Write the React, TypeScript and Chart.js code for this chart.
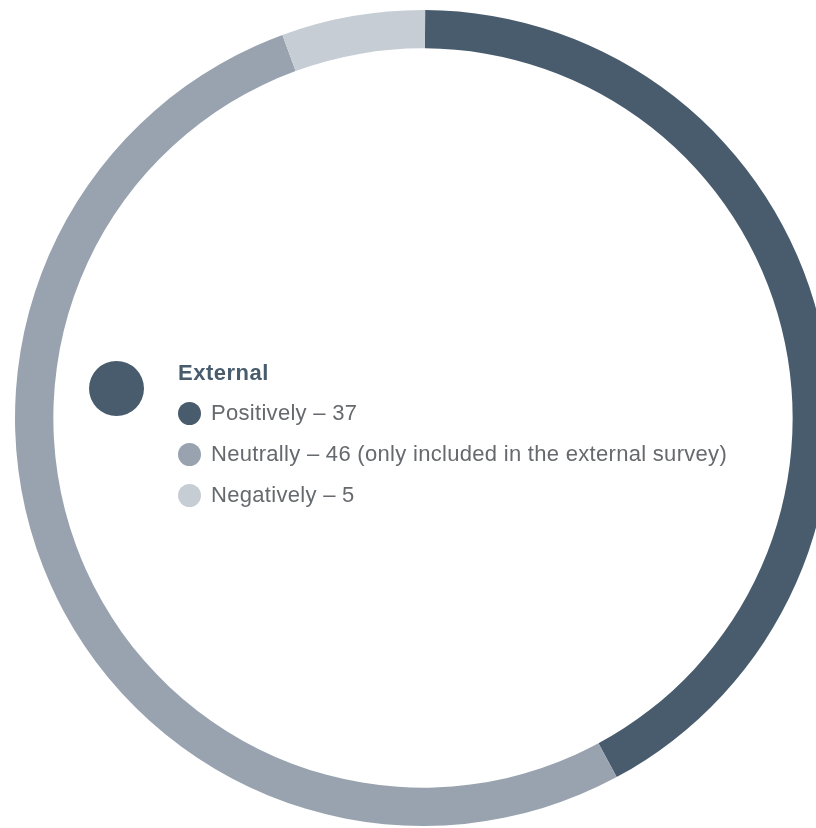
import React, { useEffect, useRef } from "react";
import { Chart, registerables } from "chart.js";

Chart.register(...registerables);

const title = "External";
const categories = ["Positively", "Neutrally", "Negatively"];
const values = [37, 46, 5];
const notes = ["", " (only included in the external survey)", ""];
const colors = ["#485c6e", "#98a3af", "#c6cdd5"];

export default function App() {
  const ref = useRef<HTMLCanvasElement | null>(null);

  useEffect(() => {
    if (!ref.current) return;
    const chart = new Chart(ref.current, {
      type: "doughnut",
      data: {
        labels: categories,
        datasets: [
          {
            data: values,
            backgroundColor: colors,
            borderWidth: 0,
            radius: 408,
            cutout: "90.6%",
          } as any,
        ],
      },
      options: {
        responsive: false,
        animation: false,
        rotation: 0.3,
        layout: { padding: 0 },
        plugins: {
          legend: { display: false },
          tooltip: { enabled: false },
        },
      },
    });
    return () => chart.destroy();
  }, []);

  const font = '"Liberation Sans", Arial, Helvetica, sans-serif';

  return (
    <div
      style={{
        position: "fixed",
        left: 0,
        top: 0,
        width: 816,
        height: 828,
        overflow: "hidden",
        background: "#ffffff",
      }}
    >
      <canvas
        ref={ref}
        width={846}
        height={836}
        style={{ position: "absolute", left: 0, top: 0, width: 846, height: 836 }}
      />
      <div
        style={{
          position: "absolute",
          left: 89,
          top: 361,
          width: 55,
          height: 55,
          borderRadius: "50%",
          background: colors[0],
        }}
      />
      <div
        style={{
          position: "absolute",
          left: 178,
          top: 358,
          fontFamily: font,
          fontWeight: 700,
          fontSize: 22,
          letterSpacing: 0.5,
          color: "#485c6e",
          lineHeight: "30px",
          whiteSpace: "nowrap",
        }}
      >
        {title}
      </div>
      {categories.map((c, i) => (
        <div
          key={c}
          style={{
            position: "absolute",
            left: 178,
            top: 398 + i * 41,
            height: 30,
            display: "flex",
            alignItems: "center",
            whiteSpace: "nowrap",
            fontFamily: font,
            fontSize: 22,
            letterSpacing: 0.3,
            color: "#66696d",
          }}
        >
          <span
            style={{
              display: "inline-block",
              width: 23,
              height: 23,
              borderRadius: "50%",
              background: colors[i],
              marginRight: 10,
            }}
          />
          <span>{`${c} – ${values[i]}${notes[i]}`}</span>
        </div>
      ))}
    </div>
  );
}
